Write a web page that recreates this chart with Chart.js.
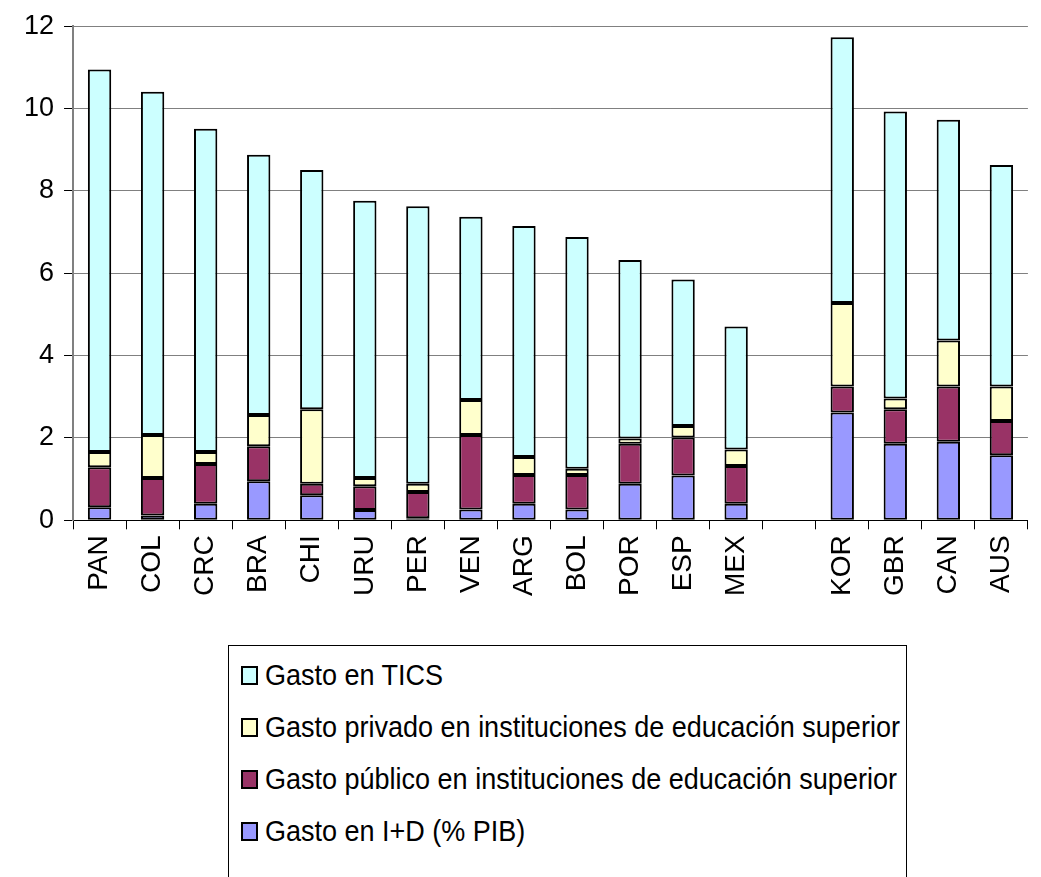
<!DOCTYPE html>
<html>
<head>
<meta charset="utf-8">
<script src="https://cdn.jsdelivr.net/npm/chart.js@4.4.1/dist/chart.umd.min.js"></script>
<style>
    html, body { margin: 0; padding: 0; background: #ffffff; }
    body { width: 1041px; height: 877px; position: relative; overflow: hidden; font-family: "Liberation Sans", Arial, sans-serif; }
    #chartWrap { position: absolute; left: 0; top: 0; width: 1041px; height: 625px; }
    #legendBox {
        position: absolute; left: 228px; top: 645px; width: 679px; height: 240px;
        border: 1px solid #000000; box-sizing: border-box; background: #ffffff;
    }
    .legend-item { position: absolute; left: 12px; height: 30px; display: flex; align-items: center; white-space: nowrap; }
    .legend-swatch { width: 13px; height: 15px; border: 2px solid #000000; margin-right: 7px; flex: none; }
    .legend-text { font-size: 30px; color: #000000; transform: scaleX(0.9); transform-origin: left center; display: inline-block; }
</style>
</head>
<body>
<div id="chartWrap"><canvas id="gastoChart" width="1041" height="625"></canvas></div>
<div id="legendBox"></div>
<script>
const countries = ["PAN", "COL", "CRC", "BRA", "CHI", "URU", "PER", "VEN", "ARG", "BOL", "POR", "ESP", "MEX", "", "KOR", "GBR", "CAN", "AUS"];

const gastoID = [0.32, 0.12, 0.40, 0.95, 0.61, 0.25, 0.05, 0.26, 0.40, 0.26, 0.89, 1.09, 0.40, null, 2.62, 1.86, 1.91, 1.58];
const gastoPublico = [0.97, 0.91, 0.97, 0.85, 0.28, 0.58, 0.64, 1.81, 0.70, 0.84, 0.97, 0.92, 0.92, null, 0.63, 0.84, 1.34, 0.83];
const gastoPrivado = [0.37, 1.04, 0.29, 0.76, 1.81, 0.20, 0.20, 0.85, 0.44, 0.15, 0.13, 0.28, 0.40, null, 2.03, 0.26, 1.12, 0.84];
const gastoTICS = [9.29, 8.34, 7.85, 6.32, 5.81, 6.73, 6.74, 4.45, 5.61, 5.63, 4.33, 3.56, 2.99, null, 6.45, 6.97, 5.36, 5.38];

const yTicks = [0, 2, 4, 6, 8, 10, 12];

const seriesLabels = [
    "Gasto en I+D (% PIB)",
    "Gasto público en instituciones de educación superior",
    "Gasto privado en instituciones de educación superior",
    "Gasto en TICS"
];
const seriesColors = ["#9999ff", "#993366", "#ffffcc", "#ccffff"];

function makeDataset(label, values, color) {
    return {
        label: label,
        data: values,
        backgroundColor: color,
        borderColor: "#000000",
        borderWidth: 2,
        borderSkipped: false,
        barPercentage: 0.44,
        categoryPercentage: 1.0
    };
}

function buildLegend(datasets) {
    const box = document.getElementById("legendBox");
    box.innerHTML = "";
    const ordered = datasets.slice().reverse();
    ordered.forEach((ds, i) => {
        const item = document.createElement("div");
        item.className = "legend-item";
        item.style.top = (14 + i * 52) + "px";
        item.innerHTML = `
            <span class="legend-swatch" style="background:${ds.backgroundColor}"></span>
            <span class="legend-text">${ds.label}</span>
        `;
        box.appendChild(item);
    });
}

document.addEventListener("DOMContentLoaded", () => {
    const datasets = [
        makeDataset(seriesLabels[0], gastoID, seriesColors[0]),
        makeDataset(seriesLabels[1], gastoPublico, seriesColors[1]),
        makeDataset(seriesLabels[2], gastoPrivado, seriesColors[2]),
        makeDataset(seriesLabels[3], gastoTICS, seriesColors[3])
    ];

    new Chart(document.getElementById("gastoChart"), {
        type: "bar",
        data: {
            labels: countries,
            datasets: datasets
        },
        options: {
            responsive: false,
            animation: false,
            layout: {
                padding: { top: 13, left: 14, right: 0, bottom: 23 }
            },
            plugins: {
                legend: { display: false },
                tooltip: { enabled: false }
            },
            scales: {
                x: {
                    stacked: true,
                    offset: true,
                    grid: {
                        offset: true,
                        drawOnChartArea: false,
                        color: "#000000",
                        tickLength: 9,
                        tickColor: "#000000"
                    },
                    border: { color: "#000000", width: 1 },
                    ticks: {
                        autoSkip: false,
                        maxRotation: 90,
                        minRotation: 90,
                        padding: 6,
                        color: "#000000",
                        font: { family: "'Liberation Sans', Arial, sans-serif", size: 28 }
                    }
                },
                y: {
                    stacked: true,
                    min: 0,
                    max: 12,
                    afterBuildTicks: axis => {
                        axis.ticks = yTicks.map(v => ({ value: v }));
                    },
                    grid: {
                        color: "#808080",
                        tickLength: 9,
                        tickColor: "#000000"
                    },
                    border: { color: "#808080", width: 2 },
                    ticks: {
                        padding: 10,
                        color: "#000000",
                        font: { family: "'Liberation Sans', Arial, sans-serif", size: 27 }
                    }
                }
            }
        }
    });

    buildLegend(datasets);
});
</script>
</body>
</html>
